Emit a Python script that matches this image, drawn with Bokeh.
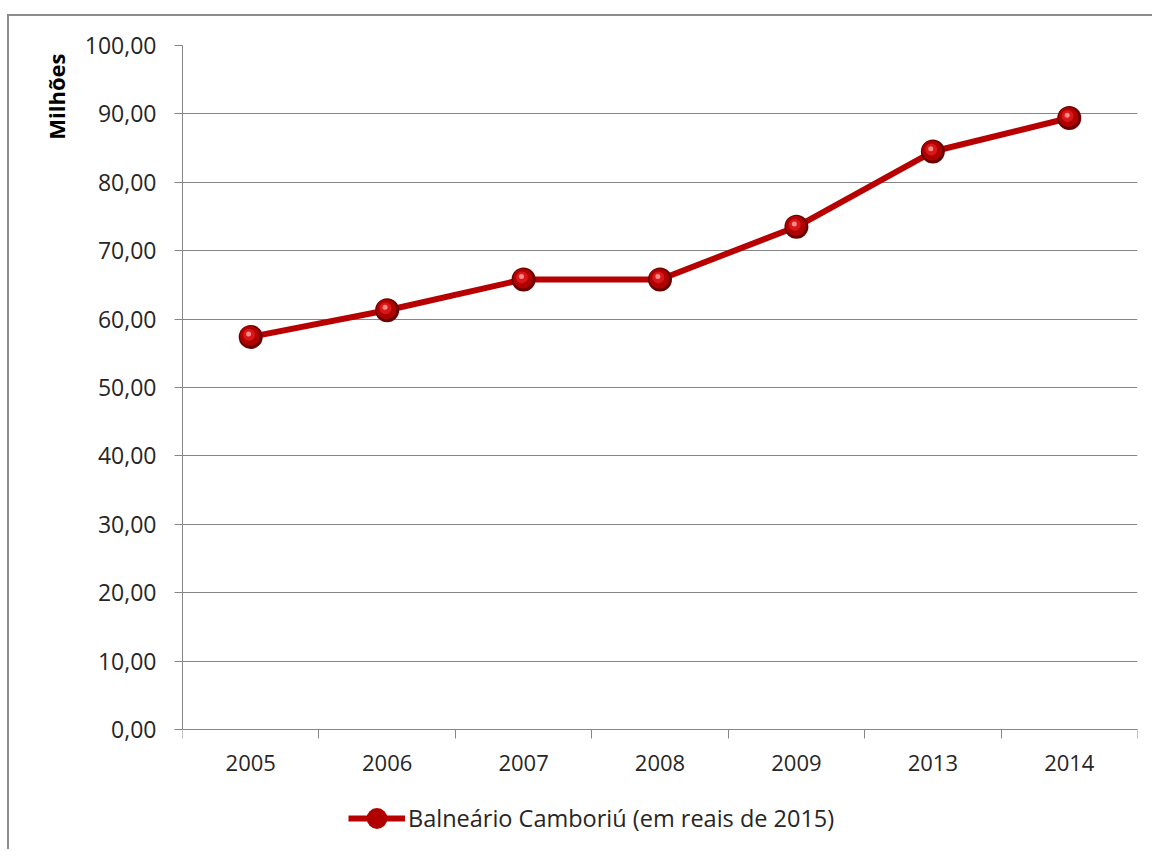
from bokeh.plotting import figure
from bokeh.models import (FixedTicker, CustomJSTickFormatter, Legend, LegendItem,
                          Range1d, Title)
from bokeh.embed import file_html
from bokeh.resources import INLINE

# Receita em milhões de reais (valores de 2015)
years = ["2005", "2006", "2007", "2008", "2009", "2013", "2014"]
values = [57.4, 61.3, 65.8, 65.8, 73.5, 84.5, 89.4]
y_ticks = [0, 10, 20, 30, 40, 50, 60, 70, 80, 90, 100]
series_label = "Balneário Camboriú (em reais de 2015)"
unit_label = "Milhões"

FONT = "Open Sans"
TEXT = "#262626"
GRID = "#868686"
RED = "#b80000"

# category centres on a numeric axis so ticks can sit between categories
xs = [i + 0.5 for i in range(len(years))]
bounds = list(range(len(years) + 1))

# the frame runs to the bottom edge; the value axis covers 0..100 in 684 px
plot_px = 684
below_px = 122
y_min, y_max = y_ticks[0], y_ticks[-1]
y_start = y_min - below_px * (y_max - y_min) / plot_px

p = figure(width=1145, height=835, output_backend="svg", toolbar_location=None,
           x_range=Range1d(0, len(years)), y_range=Range1d(y_start, y_max),
           min_border_left=173, min_border_right=17, min_border_top=29,
           min_border_bottom=0)
p.margin = (14, 0, 0, 7)
p.styles = {"border-top": "2px solid #8c8c8c", "border-left": "2px solid #8c8c8c"}
p.background_fill_color = "white"
p.border_fill_color = "white"
p.outline_line_color = None

# value axis
p.yaxis.ticker = FixedTicker(ticks=y_ticks)
p.yaxis.bounds = (y_min, y_max)
p.yaxis.formatter = CustomJSTickFormatter(code="return tick.toFixed(2).replace('.', ',');")
p.yaxis.major_label_text_font = FONT
p.yaxis.major_label_text_font_size = "23px"
p.yaxis.major_label_text_color = TEXT
p.yaxis.major_label_standoff = 18
p.yaxis.major_tick_out = 8
p.yaxis.major_tick_in = 0
p.yaxis.major_tick_line_color = GRID
p.yaxis.minor_tick_line_color = None
p.yaxis.axis_line_color = GRID

p.add_layout(Title(text=unit_label, align="right", text_font=FONT,
                   text_font_style="bold", text_font_size="22px",
                   text_color="black", standoff=22, offset=8), "left")

# category axis pinned at zero
p.xaxis.fixed_location = y_min
p.xaxis.ticker = FixedTicker(ticks=xs, minor_ticks=bounds)
p.xaxis.formatter = CustomJSTickFormatter(args=dict(years=years),
                                          code="return years[Math.floor(tick)];")
p.xaxis.major_label_text_font = FONT
p.xaxis.major_label_text_font_size = "22px"
p.xaxis.major_label_text_color = TEXT
p.xaxis.major_label_standoff = 16
p.xaxis.major_tick_line_color = None
p.xaxis.major_tick_out = 0
p.xaxis.major_tick_in = 0
p.xaxis.minor_tick_line_color = GRID
p.xaxis.minor_tick_out = 9
p.xaxis.minor_tick_in = 0
p.xaxis.axis_line_color = GRID

p.xgrid.grid_line_color = None
p.ygrid.ticker = FixedTicker(ticks=y_ticks)
p.ygrid.grid_line_color = GRID
p.ygrid.grid_line_width = 1

# series line
line_r = p.line(xs, values, line_color=RED, line_width=6, line_join="round")

# shaded sphere markers built from stacked circles
dx = 0.012
dy = 0.3
edge = p.scatter(xs, values, size=24, fill_color="#6a0000", line_color=None)
body = p.scatter([x - dx * 0.5 for x in xs], [v + dy * 0.5 for v in values],
                 size=20, fill_color="#b00000", line_color=None)
core = p.scatter([x - dx for x in xs], [v + dy for v in values],
                 size=12, fill_color="#d81818", line_color=None)
shine = p.scatter([x - dx * 1.3 for x in xs], [v + dy * 1.4 for v in values],
                  size=5, fill_color="#ff8a8a", line_color=None)

legend = Legend(items=[LegendItem(label=series_label, renderers=[line_r, body])],
                location=(166, 7), orientation="horizontal",
                glyph_width=57, glyph_height=52, label_standoff=3, padding=0,
                margin=0, spacing=0,
                label_text_font=FONT, label_text_font_size="23.5px",
                label_text_color=TEXT, border_line_color=None,
                background_fill_alpha=0)
p.add_layout(legend, "center")

open("out.html", "w").write(file_html(p, INLINE))
